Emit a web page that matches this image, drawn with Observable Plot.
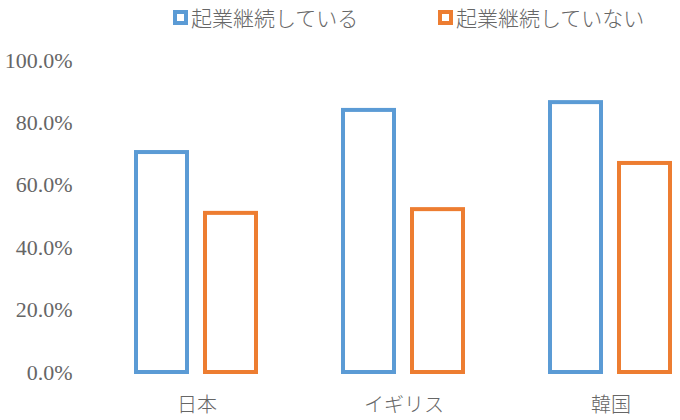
<!DOCTYPE html>
<html><head><meta charset="utf-8">
<script src="https://cdn.jsdelivr.net/npm/d3@7"></script>
<script src="https://cdn.jsdelivr.net/npm/@observablehq/plot@0.6"></script>
<style>
body{margin:0;background:#fff;width:680px;height:420px;overflow:hidden;}
#legend{position:relative;height:34px;font-family:"Noto Sans CJK JP",sans-serif;font-size:21px;font-weight:300;color:#666;}
.item{position:absolute;top:4px;display:flex;align-items:center;line-height:26px;white-space:nowrap;}
.mk{width:7px;height:7px;border:4px solid;margin-right:3px;background:#fff;}
#chart svg{display:block;}
g[aria-label="y-axis tick label"] text{font-family:"Liberation Serif",serif;font-size:22px;fill:#666;}
g[aria-label="fx-axis tick label"] text{font-family:"Noto Sans CJK JP",sans-serif;font-size:20px;font-weight:300;fill:#666;}
</style></head><body>
<div id="legend"></div><div id="chart"></div>
<script>
const countries = ["日本", "イギリス", "韓国"];
const seriesNames = ["起業継続している", "起業継続していない"];
const continuing = [70.5, 84.0, 86.5];
const notContinuing = [51.0, 52.2, 67.0];
const colors = ["#5B9BD5", "#ED7D31"];
const yTicks = [0, 20, 40, 60, 80, 100];

const data = countries.flatMap((c, i) => [
  {country: c, series: seriesNames[0], value: continuing[i]},
  {country: c, series: seriesNames[1], value: notContinuing[i]}
]);

const legend = document.getElementById("legend");
const legendLeft = [173, 438];
seriesNames.forEach((s, i) => {
  const it = document.createElement("div");
  it.className = "item";
  it.style.left = legendLeft[i] + "px";
  const mk = document.createElement("span");
  mk.className = "mk";
  mk.style.borderColor = colors[i];
  it.appendChild(mk);
  it.appendChild(document.createTextNode(s));
  legend.appendChild(it);
});

const chart = Plot.plot({
  width: 680,
  height: 386,
  marginTop: 26,
  marginBottom: 48,
  marginLeft: 92,
  marginRight: 0,
  style: {color: "#666", background: "#fff", overflow: "hidden"},
  fx: {domain: countries, range: [92, 716], paddingInner: 0.3269, paddingOuter: 0.1635, label: null},
  x: {domain: seriesNames, paddingInner: 0.257, paddingOuter: 0.1286, axis: null},
  y: {domain: [0, 100], axis: null},
  color: {domain: seriesNames, range: colors},
  marks: [
    Plot.barY(data, {fx: "country", x: "series", y: "value", stroke: "series", fill: "none", strokeWidth: 4}),
    Plot.axisY(yTicks, {tickSize: 0, tickPadding: 55, tickFormat: d => d.toFixed(1) + "%", label: null}),
    Plot.axisFx({anchor: "bottom", tickSize: 0, tickPadding: 25, label: null})
  ]
});
document.getElementById("chart").appendChild(chart);
</script>
</body></html>
